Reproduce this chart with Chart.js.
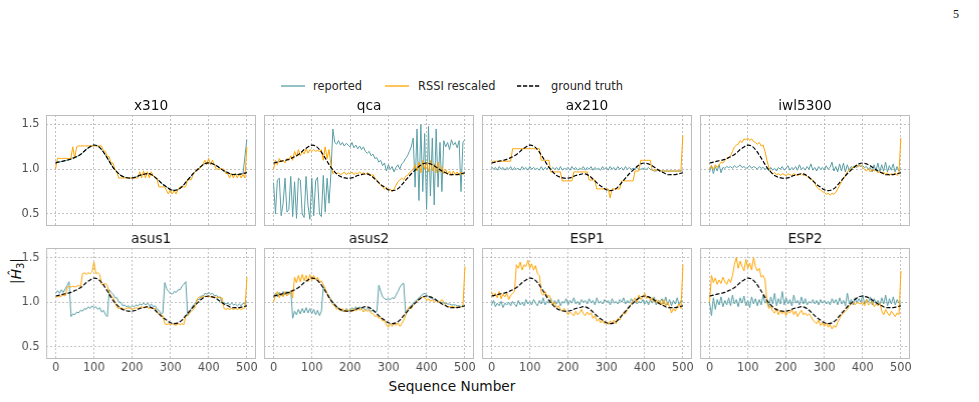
<!DOCTYPE html>
<html><head><meta charset="utf-8">
<script src="https://cdn.jsdelivr.net/npm/chart.js@4.4.1/dist/chart.umd.min.js"></script>
<style>
body{margin:0;width:979px;height:402px;background:#fff;position:relative;overflow:hidden;font-family:'DejaVu Sans',sans-serif;}
.lt{position:absolute;font-size:11.4px;line-height:14px;color:#262626;white-space:nowrap;}
.ls{position:absolute;}
#xlabel{position:absolute;left:452px;top:386px;transform:translate(-50%,-50%);font-size:13.7px;color:#111;white-space:nowrap;}
#ylabel{position:absolute;left:17px;top:271px;transform:translate(-50%,-50%) rotate(-90deg);font-size:13.7px;color:#111;white-space:nowrap;}
#ylabel sub{font-size:10px;vertical-align:-3px;}
#pnum{position:absolute;left:953px;top:7px;font-family:'Liberation Serif',serif;font-size:12px;color:#111;}
canvas{position:absolute;}
</style></head><body>
<svg class="ls" style="left:281px;top:84px" width="25" height="4"><line x1="0" y1="2" x2="24" y2="2" stroke="#5a9fa6" stroke-width="1.3"/></svg>
<div class="lt" style="left:313px;top:79px">reported</div>
<svg class="ls" style="left:385px;top:84px" width="25" height="4"><line x1="0" y1="2" x2="24" y2="2" stroke="#ffa500" stroke-width="1.3"/></svg>
<div class="lt" style="left:418px;top:79px">RSSI rescaled</div>
<svg class="ls" style="left:517px;top:84px" width="25" height="4"><line x1="0" y1="2" x2="24" y2="2" stroke="#000" stroke-width="1.3" stroke-dasharray="4.2 1.8"/></svg>
<div class="lt" style="left:551px;top:79px">ground truth</div>
<div id="xlabel">Sequence Number</div>
<div id="ylabel">|<i>Ĥ</i><sub>3</sub>|</div>
<div id="pnum">5</div>
<script>
const xs5 = [0,5,10,15,20,25,30,35,40,45,
50,55,60,65,70,75,80,85,90,95,
100,105,110,115,120,125,130,135,140,145,
150,155,160,165,170,175,180,185,190,195,
200,205,210,215,220,225,230,235,240,245,
250,255,260,265,270,275,280,285,290,295,
300,305,310,315,320,325,330,335,340,345,
350,355,360,365,370,375,380,385,390,395,
400,405,410,415,420,425,430,435,440,445,
450,455,460,465,470,475,480,485,490,495,
500];
const xs10 = [0,10,20,30,40,50,60,70,80,90,100,110,120,130,140,150,160,170,180,190,200,210,220,230,240,250,260,270,280,290,300,310,320,330,340,350,360,370,380,390,400,410,420,430,440,450,460,470,480,490,500];
const xTicks = [0,100,200,300,400,500];
const yTicks = [0.5,1.0,1.5];
const panelNames = ['x310','qca','ax210','iwl5300','asus1','asus2','ESP1','ESP2'];

const groundTruth = [1.07,1.08,1.09,1.10,1.11,1.13,1.15,1.18,1.22,1.25,
1.27,1.26,1.22,1.16,1.09,1.02,0.97,0.93,0.91,0.90,
0.90,0.91,0.93,0.94,0.95,0.94,0.91,0.87,0.83,0.80,
0.77,0.76,0.77,0.80,0.85,0.90,0.95,0.99,1.03,1.06,
1.07,1.06,1.04,1.01,0.98,0.96,0.94,0.94,0.94,0.95,
0.96];

const x310Reported = [1.08,1.08,1.09,1.10,1.12,1.13,1.15,1.18,1.22,1.25,
1.27,1.26,1.22,1.16,1.09,1.02,0.97,0.93,0.91,0.90,
0.90,0.91,0.93,0.94,0.95,0.94,0.91,0.87,0.83,0.80,
0.77,0.76,0.77,0.80,0.85,0.90,0.95,0.99,1.03,1.06,
1.07,1.06,1.04,1.01,0.98,0.96,0.94,0.94,0.94,0.95,
1.33];
const x310Rssi = [1.0,1.12,1.12,1.12,1.12,1.12,1.12,1.12,1.12,1.25,
1.12,1.25,1.26,1.26,1.26,1.26,1.26,1.26,1.26,1.26,
1.26,1.26,1.26,1.26,1.26,1.21,1.2,1.14,1.14,1.07,
1.07,1.0,0.97,0.9,0.9,0.9,0.9,0.9,0.9,0.9,
0.9,0.9,0.9,0.9,0.97,0.9,0.98,0.9,0.97,0.9,
0.97,0.93,0.9,0.9,0.8,0.8,0.8,0.8,0.76,0.72,
0.77,0.72,0.76,0.72,0.77,0.8,0.8,0.8,0.8,0.88,
0.88,0.88,0.95,0.97,1.0,1.0,1.02,1.05,1.1,1.05,
1.12,1.05,1.1,1.05,1.0,1.0,1.0,1.0,1.0,0.95,
0.95,0.9,0.95,0.9,0.95,0.9,0.95,0.9,0.94,0.9,
1.25];

const qcaReported = [0.85,0.5,0.88,0.9,0.48,0.62,0.9,0.52,0.55,0.92,
0.47,0.86,0.45,0.9,0.88,0.5,0.46,0.92,0.6,0.44,
0.9,0.48,0.87,0.91,0.5,0.47,0.93,0.52,0.9,0.62,
0.95,1.45,1.3,1.28,1.32,1.27,1.3,1.26,1.29,1.27,
1.25,1.3,1.24,1.27,1.23,1.26,1.22,1.25,1.2,1.18,
1.2,1.15,1.17,1.12,1.13,1.08,1.1,1.04,1.07,0.98,
1.05,1.0,1.03,0.97,1.02,1.05,1.0,1.06,1.08,1.12,
1.15,1.2,1.25,1.35,0.8,1.45,0.65,1.5,0.75,1.4,
0.55,1.48,0.7,1.35,0.6,1.45,0.8,1.3,0.75,1.32,
1.25,1.3,1.22,1.33,1.27,1.3,1.24,1.32,0.75,1.3,
1.33];
const qcaRssi = [1.0,1.1,1.05,1.12,1.08,1.1,1.07,1.12,1.1,1.15,
1.1,1.2,1.14,1.22,1.15,1.2,1.17,1.23,1.18,1.22,
1.2,1.22,1.2,1.21,1.2,1.22,1.1,1.25,1.12,1.22,
1.05,0.95,0.97,0.95,0.96,0.94,0.95,0.97,0.94,0.96,
0.95,0.97,0.94,0.96,0.95,0.97,0.95,0.96,0.94,0.96,
0.95,0.93,0.94,0.9,0.88,0.85,0.82,0.8,0.78,0.8,
0.76,0.78,0.75,0.78,0.82,0.86,0.88,0.9,0.88,0.92,
0.93,0.96,0.98,1.0,1.05,0.98,1.08,0.96,1.1,1.0,
1.08,0.97,1.1,0.98,1.06,0.96,1.08,0.97,1.03,0.95,
1.0,0.94,0.98,0.93,0.98,0.94,0.97,0.93,0.97,0.94,
0.96];

const ax210Reported = [1.03,1.0,1.02,0.99,1.03,1.0,1.02,0.99,1.02,1.0,
1.03,0.99,1.02,1.0,1.01,0.99,1.03,1.0,1.02,0.99,
1.03,1.0,1.02,1.0,1.01,0.99,1.03,0.99,1.02,1.0,
1.03,0.99,1.02,1.0,1.02,0.99,1.03,0.99,1.01,1.0,
1.02,0.99,1.03,1.0,1.02,0.99,1.01,1.0,1.03,0.99,
1.02,1.0,1.03,0.99,1.02,1.0,1.01,0.99,1.03,1.0,
1.02,0.99,1.03,1.0,1.02,0.99,1.03,1.0,1.02,0.99,
1.03,1.0,1.02,1.0,1.01,1.0,1.02,1.0,1.0,1.01,
1.0,1.0,1.02,1.0,0.99,0.98,0.98,0.99,0.98,0.98,
0.98,0.98,0.98,0.98,0.98,0.98,0.98,0.98,0.98,0.98,
0.98];
const ax210Rssi = [1.08,1.09,1.09,1.09,1.09,1.09,1.09,1.09,1.09,1.09,
1.09,1.23,1.23,1.23,1.23,1.23,1.23,1.23,1.23,1.23,
1.23,1.23,1.23,1.23,1.23,1.23,1.1,1.1,1.1,1.1,
1.1,0.97,0.97,0.97,0.97,0.97,0.97,0.87,0.87,0.87,
0.87,0.87,0.87,0.97,0.97,0.97,0.97,0.97,0.97,0.97,
0.97,0.88,0.88,0.88,0.88,0.78,0.78,0.78,0.78,0.78,
0.78,0.78,0.68,0.78,0.78,0.78,0.78,0.78,0.87,0.87,
0.87,0.87,0.87,0.87,0.87,0.98,0.98,0.98,1.1,1.1,
1.1,1.1,1.1,1.1,0.99,0.99,0.99,0.99,0.99,0.98,
0.98,0.98,0.98,0.98,0.98,0.98,0.98,0.98,0.98,0.98,
1.38];

const iwlReported = [0.97,1.04,0.95,1.03,0.98,1.05,0.96,1.02,1.01,1.03,
1.02,1.03,1.01,1.04,1.02,1.03,1.05,1.02,1.03,1.01,
1.02,1.04,1.01,1.03,1.02,1.0,1.03,1.01,1.02,1.0,
1.01,0.98,1.02,0.99,1.01,0.98,1.02,1.0,1.03,0.99,
1.01,1.04,0.99,1.02,1.0,1.03,0.99,1.05,1.0,1.02,
0.99,1.03,1.0,1.06,0.99,1.02,0.98,1.03,1.0,1.02,
0.99,1.04,1.0,1.02,1.08,0.98,1.03,0.97,1.06,0.98,
1.07,0.97,1.05,0.99,1.03,1.01,1.04,1.02,1.05,1.03,
1.04,1.02,1.03,1.0,1.02,0.97,1.05,0.98,1.07,0.97,
1.05,0.98,1.08,0.97,1.04,0.99,1.06,0.97,1.03,0.98,
1.0];
const iwlRssi = [1.0,1.04,1.0,1.05,1.02,1.05,1.08,1.07,1.1,1.12,
1.13,1.15,1.2,1.25,1.27,1.28,1.32,1.3,1.34,1.33,
1.35,1.32,1.34,1.31,1.3,1.28,1.3,1.26,1.27,1.2,
1.1,1.02,0.97,0.95,0.96,0.94,0.95,0.93,0.95,0.94,
0.93,0.95,0.94,0.93,0.95,0.94,0.93,0.94,0.95,0.93,
0.94,0.92,0.9,0.89,0.88,0.85,0.8,0.78,0.77,0.75,
0.74,0.72,0.73,0.71,0.73,0.72,0.74,0.78,0.82,0.86,
0.9,0.93,0.97,0.99,1.0,1.03,1.02,1.04,1.03,1.05,
1.02,1.0,0.98,1.01,0.97,1.0,0.98,0.99,0.96,0.97,
0.95,0.97,0.94,0.96,0.93,0.95,0.94,0.96,0.93,0.95,
1.35];

const asus1Reported = [1.1,1.13,1.1,1.14,1.11,1.15,1.19,1.23,0.84,0.87,
0.86,0.89,0.88,0.91,0.9,0.93,0.92,0.95,0.93,0.96,
0.94,0.95,0.92,0.94,0.89,0.91,0.86,0.84,1.14,1.11,
1.09,1.05,1.05,1.0,1.0,0.96,0.97,0.95,0.96,0.94,
0.96,0.95,0.97,0.96,0.98,0.97,0.99,0.97,0.99,0.96,
0.98,0.95,0.96,0.92,0.91,0.87,0.88,1.22,1.15,1.12,
1.1,1.09,1.12,1.11,1.14,1.14,1.18,1.2,1.23,0.85,
0.9,0.93,0.97,0.99,1.03,1.03,1.07,1.07,1.1,1.09,
1.11,1.09,1.1,1.07,1.08,1.05,1.06,0.99,1.0,0.98,
0.99,0.97,0.99,0.97,0.98,0.96,0.98,0.96,0.99,0.98,
1.0];
const asus1Rssi = [1.05,1.07,1.06,1.07,1.08,1.07,1.17,1.18,1.17,1.18,
1.17,1.18,1.19,1.17,1.32,1.33,1.31,1.33,1.32,1.34,
1.45,1.32,1.33,1.31,1.2,1.2,1.21,1.19,1.1,1.07,
1.05,1.0,0.94,0.93,0.94,0.93,0.92,0.93,0.94,0.93,
0.92,0.93,0.94,0.93,0.94,0.95,0.94,0.95,0.94,0.93,
0.94,0.93,0.93,0.88,0.87,0.86,0.85,0.76,0.75,0.76,
0.75,0.76,0.75,0.74,0.76,0.75,0.76,0.75,0.85,0.85,
0.88,0.9,0.92,0.95,1.04,1.06,1.05,1.06,1.07,1.06,
1.07,1.06,1.05,1.06,1.05,1.06,1.05,1.05,0.93,0.92,
0.93,0.92,0.93,0.92,0.93,0.92,0.93,0.92,0.93,0.94,
1.28];

const asus2Reported = [1.05,1.1,1.06,1.11,1.07,1.12,1.08,1.12,1.09,1.13,
0.82,0.9,0.86,0.92,0.87,0.93,0.88,0.94,0.88,0.93,
0.87,0.92,0.86,0.91,0.85,0.9,1.17,1.14,1.1,1.06,
1.03,1.0,0.98,0.95,0.93,0.92,0.9,0.9,0.93,0.91,
0.9,0.94,0.91,0.95,0.92,0.95,0.92,0.94,0.91,0.93,
0.92,0.9,0.91,0.89,0.9,1.19,1.12,1.06,1.04,1.03,
1.04,1.03,1.05,1.04,1.08,1.12,1.17,1.2,1.21,0.88,
0.9,0.93,0.96,0.99,1.01,1.03,1.05,1.07,1.09,1.1,
1.08,1.06,1.05,1.04,1.03,1.02,1.01,1.0,1.0,0.99,
0.99,0.98,0.98,0.97,0.97,0.97,0.96,0.96,0.95,0.95,
0.96];
const asus2Rssi = [1.0,1.08,1.12,1.05,1.1,1.06,1.12,1.07,1.1,1.13,
1.05,1.28,1.22,1.3,1.23,1.31,1.24,1.3,1.23,1.31,
1.24,1.3,1.25,1.28,1.22,1.24,1.2,1.15,1.1,1.06,
1.02,0.97,0.96,0.92,0.94,0.9,0.93,0.89,0.92,0.9,
0.92,0.89,0.93,0.9,0.94,0.91,0.93,0.89,0.92,0.9,
0.91,0.88,0.87,0.84,0.85,0.82,0.83,0.79,0.8,0.74,
0.72,0.76,0.73,0.77,0.74,0.77,0.73,0.76,0.8,0.85,
0.92,0.95,0.93,0.97,0.99,1.01,1.03,1.05,1.06,1.05,
1.02,1.04,1.01,1.03,1.0,1.02,1.0,1.01,1.03,1.0,
0.96,0.95,0.95,0.95,0.95,0.94,0.95,0.94,0.95,0.97,
1.4];

const esp1Reported = [0.97,1.02,0.95,0.99,0.96,1.01,0.94,0.99,0.97,1.0,
0.96,1.01,0.98,0.95,1.02,0.97,1.0,0.96,1.03,0.98,
1.01,0.97,1.03,0.99,0.96,1.02,0.98,1.05,0.97,1.01,
0.99,1.04,0.97,1.02,0.98,1.03,0.96,1.01,0.99,1.04,
0.97,1.02,0.99,1.05,0.98,1.01,0.97,1.03,1.0,1.02,
0.98,1.04,0.99,1.02,0.97,1.05,0.99,1.01,0.98,1.03,
1.0,1.02,0.97,1.04,0.99,1.01,0.98,1.03,1.0,1.05,
0.98,1.02,0.99,1.04,1.0,1.02,0.98,1.01,0.99,1.03,
0.98,1.02,0.97,1.03,0.99,1.06,0.97,1.02,1.0,1.04,
0.98,1.06,0.97,1.03,0.96,1.02,0.98,1.05,0.97,1.02,
1.0];
const esp1Rssi = [1.12,1.06,1.1,1.05,1.12,1.04,1.09,1.06,1.1,1.03,
1.08,1.1,1.12,1.42,1.38,1.45,1.36,1.42,1.4,1.47,
1.38,1.43,1.36,1.41,1.32,1.3,1.1,1.08,1.12,1.06,
1.08,1.03,0.97,1.0,0.94,0.96,0.92,0.9,0.93,0.89,
0.86,0.89,0.87,0.85,0.9,0.86,0.88,0.92,0.87,0.85,
0.89,0.86,0.88,0.82,0.85,0.79,0.81,0.77,0.8,0.76,
0.78,0.75,0.79,0.77,0.8,0.76,0.82,0.8,0.85,0.88,
0.87,0.92,0.95,0.98,1.02,1.05,1.0,1.08,1.03,1.06,
1.1,1.04,1.07,1.02,1.05,1.0,1.03,0.98,1.02,0.97,
1.03,0.96,1.0,0.95,0.88,0.93,0.9,0.95,0.98,0.93,
1.42];

const esp2Reported = [1.0,0.85,1.05,0.92,1.03,0.97,1.06,0.95,1.02,0.97,
1.05,0.96,1.08,0.98,1.03,0.95,1.05,0.99,1.07,0.96,
1.02,0.94,1.06,0.98,1.04,0.96,1.03,0.97,1.08,0.99,
1.02,0.95,1.06,0.98,1.1,0.96,1.04,0.98,1.12,0.97,
1.05,0.98,1.03,0.96,1.08,0.99,1.02,0.97,1.06,0.98,
1.04,0.97,1.01,0.99,1.03,0.98,1.02,0.97,1.03,0.99,
1.02,0.98,1.01,0.97,1.04,0.99,1.03,0.97,1.05,0.98,
1.02,0.96,1.1,0.98,1.03,0.97,1.05,0.99,1.04,1.0,
1.08,0.98,1.03,1.0,1.06,0.97,1.04,0.99,1.02,0.97,
1.05,0.98,1.08,0.96,1.04,0.98,1.06,0.97,1.03,0.99,
0.99];
const esp2Rssi = [1.0,1.3,1.22,1.27,1.2,1.25,1.21,1.28,1.23,1.2,
1.26,1.22,1.3,1.42,1.5,1.38,1.46,1.4,1.35,1.48,
1.38,1.44,1.36,1.5,1.4,1.35,1.38,1.28,1.3,1.25,
1.0,0.93,0.96,0.9,0.88,0.93,0.86,0.91,0.87,0.9,
0.85,0.9,0.88,0.92,0.86,0.9,0.84,0.88,0.91,0.86,
0.88,0.85,0.87,0.84,0.8,0.78,0.76,0.8,0.74,0.77,
0.73,0.77,0.72,0.75,0.7,0.74,0.72,0.78,0.82,0.86,
0.88,0.9,0.92,0.96,0.98,1.0,0.97,1.0,0.99,0.98,
1.0,0.96,1.03,0.97,0.99,1.01,0.95,0.98,0.96,0.99,
0.9,0.86,0.92,0.88,0.85,0.9,0.87,0.84,0.88,0.86,
1.35];

const reportedSeries = [x310Reported,qcaReported,ax210Reported,iwlReported,asus1Reported,asus2Reported,esp1Reported,esp2Reported];
const rssiSeries = [x310Rssi,qcaRssi,ax210Rssi,iwlRssi,asus1Rssi,asus2Rssi,esp1Rssi,esp2Rssi];

const FONT = "'DejaVu Sans', sans-serif";
const TEAL = '#5a9fa6', ORANGE = '#ffa500';
const GRIDC = '#b0b0b0', TICKC = '#4d4d4d';
const frameLeft = [46,264,482,700], frameTop = [115,248], FW = 210, FH = 111;

const toXY = (xs, ys) => xs.map((x,i)=>({x:x, y:ys[i]}));
const framePlugin = {id:'frame', afterDraw(chart){
  const {ctx, chartArea:a} = chart;
  ctx.save(); ctx.strokeStyle = '#bdbdbd'; ctx.lineWidth = 1;
  ctx.strokeRect(Math.round(a.left)+0.5, Math.round(a.top)+0.5, Math.round(a.right-a.left)-1, Math.round(a.bottom-a.top)-1);
  ctx.restore();
}};

function makeConfig(i, name, col, row, yw, xh){
  const repX = reportedSeries[i].length === xs10.length ? xs10 : xs5;
  return {
    type:'line',
    data:{datasets:[
      {label:'reported', data:toXY(repX, reportedSeries[i]), borderColor:TEAL, borderWidth:1, pointRadius:0, tension:0, order:2},
      {label:'RSSI rescaled', data:toXY(xs5, rssiSeries[i]), borderColor:ORANGE, borderWidth:1, pointRadius:0, tension:0, order:1},
      {label:'ground truth', data:toXY(xs10, groundTruth), borderColor:'#000', borderWidth:1.2, borderDash:[4.2,1.8], pointRadius:0, tension:0.35, order:0}
    ]},
    options:{
      responsive:false, animation:false, devicePixelRatio:1,
      layout:{padding:{left:0,right:2,top:0,bottom:0}, autoPadding:false},
      plugins:{
        legend:{display:false}, tooltip:{enabled:false},
        title:{display:true, text:name, fullSize:false, color:'#111', font:{family:FONT, size:13.7, weight:'normal', lineHeight:'14px'}, padding:{top:0,bottom:2}}
      },
      scales:{
        x:{type:'linear', min:-24.95, max:523.95,
          afterBuildTicks:s=>{s.ticks = xTicks.map(v=>({value:v}));},
          afterFit:s=>{s.height = xh;},
          ticks:{display:row===1, color:TICKC, font:{family:FONT,size:11.4}, padding:2, maxRotation:0, autoSkip:false},
          grid:{color:GRIDC, lineWidth:0.8, drawTicks:false},
          border:{display:false, dash:[2,2]}},
        y:{type:'linear', min:0.365, max:1.607,
          afterBuildTicks:s=>{s.ticks = yTicks.map(v=>({value:v}));},
          afterFit:s=>{s.width = yw;},
          ticks:{display:col===0, color:TICKC, font:{family:FONT,size:11.4}, padding:6.5, callback:v=>v.toFixed(1)},
          grid:{color:GRIDC, lineWidth:0.8, drawTicks:false},
          border:{display:false, dash:[2,2]}}
      }
    },
    plugins:[framePlugin]
  };
}

panelNames.forEach((name,i)=>{
  const col = i%4, row = Math.floor(i/4);
  const yw = col===0 ? 46 : 2, xh = row===0 ? 2 : 22;
  let w = yw + FW + 2, h = 16 + FH + xh;
  const cv = document.createElement('canvas');
  const place = (left, top) => {
    cv.width = w; cv.height = h;
    cv.style.left = left+'px'; cv.style.top = top+'px';
    cv.style.width = w+'px'; cv.style.height = h+'px';
  };
  place(frameLeft[col]-yw, frameTop[row]-16);
  document.body.appendChild(cv);
  let chart = new Chart(cv, makeConfig(i, name, col, row, yw, xh));
  const a = chart.chartArea;
  const ah = a.bottom - a.top, aw = a.right - a.left;
  if (Math.abs(ah-FH) > 0.01 || Math.abs(aw-FW) > 0.01 || Math.abs(a.top-16) > 0.01 || Math.abs(a.left-yw) > 0.01) {
    const aTop = a.top, aLeft = a.left;
    chart.destroy();
    h = h + (FH - ah); w = w + (FW - aw);
    place(frameLeft[col]-aLeft, frameTop[row]-aTop);
    chart = new Chart(cv, makeConfig(i, name, col, row, yw, xh));
  }
});
</script>
</body></html>
